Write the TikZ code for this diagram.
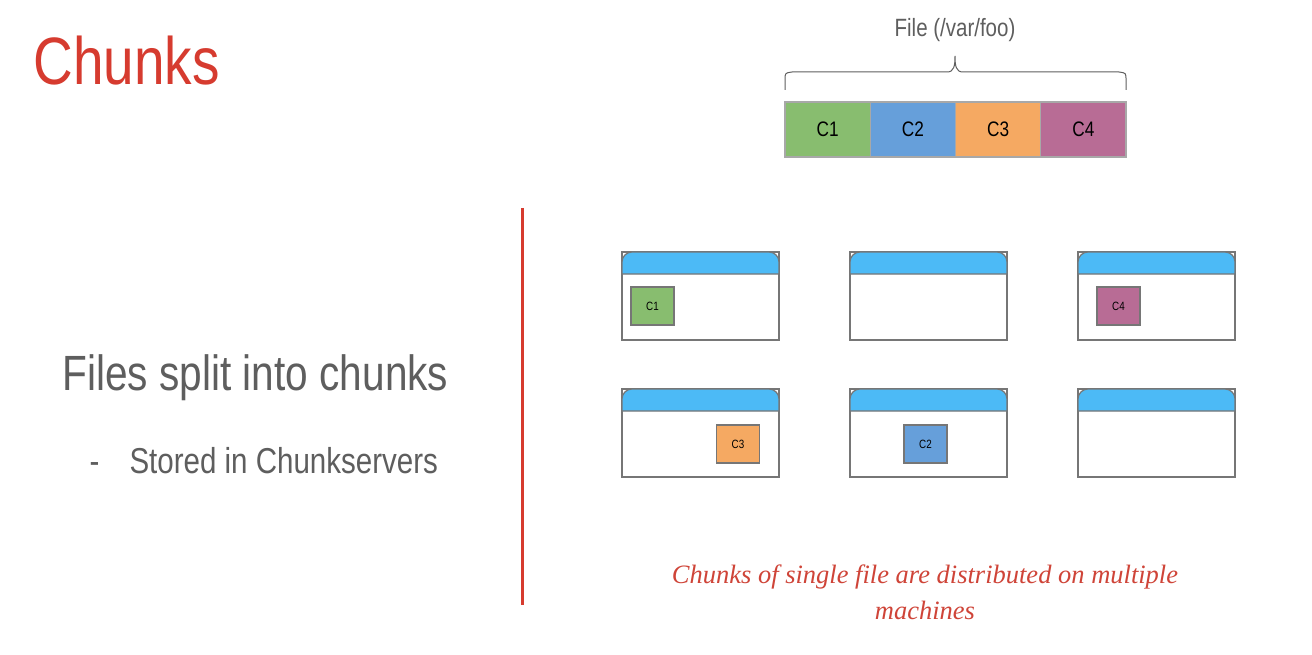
\documentclass[tikz,border=0pt]{standalone}
\usepackage{fontspec}
\setmainfont{Liberation Sans}[FakeStretch=0.82]
\newfontfamily\handfont{Liberation Serif}
\usetikzlibrary{positioning}

\definecolor{slidered}{HTML}{D63B2F}
\definecolor{notered}{HTML}{CF4438}
\definecolor{textgray}{HTML}{5E5E5E}
\definecolor{edgegray}{HTML}{767676}
\definecolor{bargray}{HTML}{A8A8A8}
\definecolor{hdrblue}{HTML}{4CBAF6}
\definecolor{cgreen}{HTML}{88BD6F}
\definecolor{cblue}{HTML}{669FDA}
\definecolor{corange}{HTML}{F5A962}
\definecolor{cpink}{HTML}{B86C95}

\tikzset{
  chunk/.style={draw=bargray, line width=1.2pt, minimum width=85.25pt,
    minimum height=55pt, inner sep=0pt, outer sep=0pt, font=\fontsize{21}{21}\selectfont},
  minichunk/.style={draw=edgegray, line width=1.2pt, minimum width=43pt,
    minimum height=38pt, inner sep=0pt, font=\fontsize{12}{12}\selectfont},
  serverbody/.style={draw=edgegray, fill=white, line width=1.2pt,
    minimum width=157pt, minimum height=88pt, inner sep=0pt},
}

\begin{document}
\begin{tikzpicture}[x=1pt,y=-1pt]
  \useasboundingbox[fill=white] (0,0) rectangle (1312,655);
  % left side
  \node[anchor=base west, text=slidered, font=\fontsize{67}{67}\selectfont] (title) at (30,85) {Chunks};
  \node[anchor=base west, text=textgray, font=\fontsize{49.5}{49.5}\selectfont] (point) at (59,390) {Files split into chunks};
  \node[anchor=base west, text=textgray, font=\fontsize{36}{36}\selectfont] (dash) at (86,473) {-};
  \node[anchor=base west, text=textgray, font=\fontsize{36}{36}\selectfont] (subpoint) at (126,473) {Stored in Chunkservers};
  \draw[slidered, line width=3pt] (522,208) -- (522,605);
  % the file
  \node[anchor=base, text=textgray, font=\fontsize{25}{25}\selectfont] (flabel) at (955,37) {File (/var/foo)};
  \node[chunk, fill=cgreen, anchor=north west] (c1) at (785,102) {C1};
  \node[chunk, fill=cblue, right=0pt of c1] (c2) {C2};
  \node[chunk, fill=corange, right=0pt of c2] (c3) {C3};
  \node[chunk, fill=cpink, right=0pt of c3] (c4) {C4};
  \draw[textgray, line width=1pt] (785,90) -- (785,80) .. controls (785,73) .. (792,72)
    -- (947,72) .. controls (954,72) and (955,66) .. (955,56)
    .. controls (955,66) and (956,72) .. (963,72) -- (1119,72)
    .. controls (1126,73) .. (1126,80) -- (1126,90);
  % chunkservers
  \foreach \sx/\sy/\sname in {622/252/sa, 850/252/sb, 1078/252/sc, 622/389/sd, 850/389/se, 1078/389/sf}{
    \node[serverbody] (\sname) at (\sx+78.5,\sy+44) {};
    \filldraw[fill=hdrblue, draw=edgegray, line width=1.2pt] (\sx,\sy+22) [rounded corners=10pt]
      -- (\sx,\sy) -- (\sx+157,\sy) [sharp corners] -- (\sx+157,\sy+22) -- cycle;
  }
  \node[minichunk, fill=cgreen] (m1) at (652.5,306) {C1};
  \node[minichunk, fill=cpink] (m4) at (1118.5,306) {C4};
  \node[minichunk, fill=corange] (m3) at (738,444) {C3};
  \node[minichunk, fill=cblue] (m2) at (925.5,444) {C2};
  % note
  \node[anchor=base, text=notered, font=\handfont\itshape\fontsize{26.5}{26.5}\selectfont] (note1) at (925,583) {Chunks of single file are distributed on multiple};
  \node[anchor=base, text=notered, font=\handfont\itshape\fontsize{26.5}{26.5}\selectfont] (note2) at (925,619) {machines};
\end{tikzpicture}
\end{document}
